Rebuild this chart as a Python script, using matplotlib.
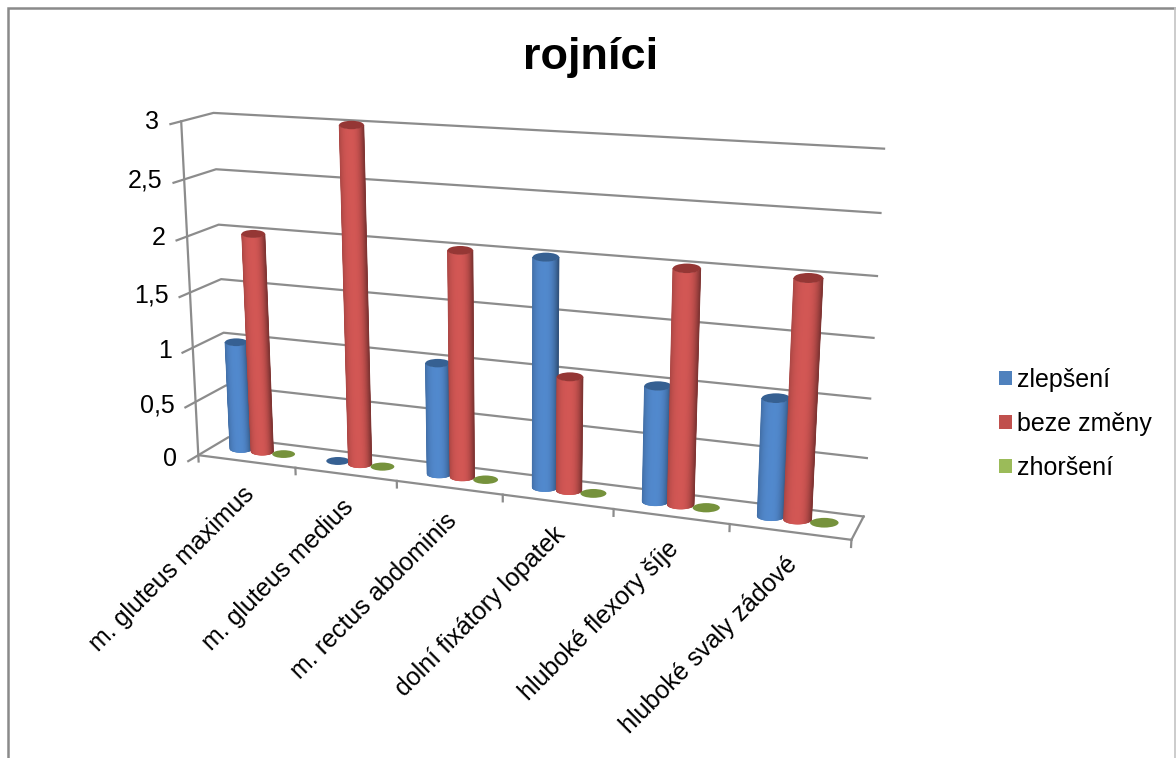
#!/usr/bin/env python

import numpy as np
import matplotlib
matplotlib.use('Agg')
import matplotlib.pyplot as plt
from matplotlib.collections import PolyCollection
from matplotlib.patches import Ellipse, Patch

plt.rcParams['font.family'] = ['Liberation Sans', 'DejaVu Sans']

categories = ['m. gluteus maximus', 'm. gluteus medius', 'm. rectus abdominis',
              'dolní fixátory lopatek', 'hluboké flexory šíje', 'hluboké svaly zádové']
series_names = ['zlepšení', 'beze změny', 'zhoršení']
zlepseni = [1, 0, 1, 2, 1, 1]
beze_zmeny = [2, 3, 2, 1, 2, 2]
zhorseni = [0, 0, 0, 0, 0, 0]
y_ticks = [0, 0.5, 1, 1.5, 2, 2.5, 3]
y_labels = ['0', '0,5', '1', '1,5', '2', '2,5', '3']

# perspective of the 3D box: (category, depth, value) -> pixel
box_3d = [(0, 0, 0), (0, 0, 1), (0, 0, 2), (0, 0, 3),
          (0, 1, 0), (0, 1, 1), (0, 1, 2), (0, 1, 3),
          (6, 1, 0), (6, 1, 1), (6, 1, 2), (6, 1, 3),
          (1, 0, 0), (2, 0, 0), (3, 0, 0), (4, 0, 0), (5, 0, 0), (6, 0, 0)]
box_px = [(199, 454), (192, 347), (187, 236), (181, 122),
          (227, 439), (225, 333), (219, 224), (213, 113),
          (863, 515), (871, 398), (877, 276), (884, 149),
          (296, 467), (397, 481), (503, 495), (613, 510), (729, 525), (852, 540)]


def fit_camera(world, image):
    rows = []
    rhs = []
    for (x, d, z), (u, v) in zip(world, image):
        rows.append([x, d, z, 1, 0, 0, 0, 0, -u*x, -u*d, -u*z])
        rows.append([0, 0, 0, 0, x, d, z, 1, -v*x, -v*d, -v*z])
        rhs += [u, v]
    sol = np.linalg.lstsq(np.array(rows, float), np.array(rhs, float), rcond=None)[0]
    return np.append(sol, 1).reshape(3, 4)


cam = fit_camera(box_3d, box_px)


def proj(x, d, z):
    p = cam @ np.array([x, d, z, 1.0])
    return p[0]/p[2], p[1]/p[2]


def shade(base, u):
    # soft falloff on the left, stronger on the right
    if u < 0:
        k = 1.03 - 0.2*abs(u)**3
    else:
        k = 1.03 - 0.42*u**2.4
    return tuple(np.clip(np.array(base)*k, 0, 1))


def cylinder(ax, xc, val, body, top, zo):
    r = 0.118
    d = 0.54
    x0, y0 = proj(xc, d, 0)
    x1, y1 = proj(xc, d, val)
    w0 = (proj(xc + r, d, 0)[0] - proj(xc - r, d, 0)[0])/2
    w1 = (proj(xc + r, d, val)[0] - proj(xc - r, d, val)[0])/2
    h0, h1 = w0*0.34, w1*0.34
    if val > 0:
        us = np.linspace(-1, 1, 61)
        quads = []
        cols = []
        for a, b in zip(us[:-1], us[1:]):
            sa, sb = np.sqrt(1 - a*a), np.sqrt(1 - b*b)
            quads.append([(x1 + w1*a, y1 + h1*sa), (x1 + w1*b, y1 + h1*sb),
                          (x0 + w0*b, y0 + h0*sb), (x0 + w0*a, y0 + h0*sa)])
            cols.append(shade(body, (a + b)/2))
        ax.add_collection(PolyCollection(quads, facecolors=cols, edgecolors=cols,
                                         linewidths=0.4, zorder=zo))
    ax.add_patch(Ellipse((x1, y1), 2*w1, 2*h1, facecolor=top, edgecolor='none', zorder=zo + 0.1))


fig = plt.figure(figsize=(11.76, 7.58), dpi=100)
ax = fig.add_axes([0, 0, 1, 1])
ax.set_xlim(0, 1176)
ax.set_ylim(758, 0)
ax.axis('off')

# outer chart border, open at the bottom
ax.plot([7.5, 7.5, 1175], [758, 8, 8], color='#8a8a8a', lw=1.8, solid_joinstyle='miter')
ax.plot([1175, 1175], [8, 758], color='#c4c4c4', lw=1.2)

grid = '#8c8c8c'
for t, lab in zip(y_ticks, y_labels):
    a = proj(-0.0, -0.32, t)
    b = proj(0, 1, t)
    c = proj(6, 1, t)
    ax.plot([a[0], proj(0, 0, t)[0], b[0], c[0]], [a[1], proj(0, 0, t)[1], b[1], c[1]],
            color=grid, lw=1.6, zorder=1)
    ax.text(a[0] - 11, a[1] - 2, lab, ha='right', va='center', fontsize=18, color='black')

# axis edges and floor
for p, q in [((0, 0, 0), (0, 0, 3)), ((0, 0, 0), (6, 0, 0)), ((6, 0, 0), (6, 1, 0))]:
    a, b = proj(*p), proj(*q)
    ax.plot([a[0], b[0]], [a[1], b[1]], color=grid, lw=1.6, zorder=1)
for i in range(7):
    a, b = proj(i, 0, 0), proj(i, 0, -0.06)
    ax.plot([a[0], b[0]], [a[1], b[1]], color=grid, lw=1.6, zorder=1)

body_cols = [(0.31, 0.52, 0.78), (0.80, 0.33, 0.32), (0.61, 0.73, 0.35)]
top_cols = ['#366092', '#953735', '#76923c']
values = [zlepseni, beze_zmeny, zhorseni]
bar_w = 1/4.5

zo = 2
for i in range(len(categories)):
    for j in range(3):
        xc = i + (0.75 + j + 0.5)*bar_w
        cylinder(ax, xc, values[j][i], body_cols[j], top_cols[j], zo)
        zo += 1

# category labels hang off the front edge at 45 degrees
for i, name in enumerate(categories):
    x, y = proj(i + 0.5, 0, 0)
    ax.text(x + 4, y + 29, name, rotation=45, rotation_mode='anchor', ha='right', va='center',
            fontsize=18, color='black')

ax.text(591, 58, 'rojníci', ha='center', va='center', fontsize=32.5, fontweight='bold', color='black')

handles = [Patch(facecolor=c, edgecolor='none') for c in ['#4f81bd', '#c0504d', '#9bbb59']]
ax.legend(handles, series_names, loc='center left', bbox_to_anchor=(999, 424),
          bbox_transform=ax.transData, frameon=False, fontsize=18, handlelength=0.52,
          handleheight=0.52, handletextpad=0.2, labelspacing=0.8, borderpad=0, borderaxespad=0)

plt.savefig('out.png', dpi=100)
